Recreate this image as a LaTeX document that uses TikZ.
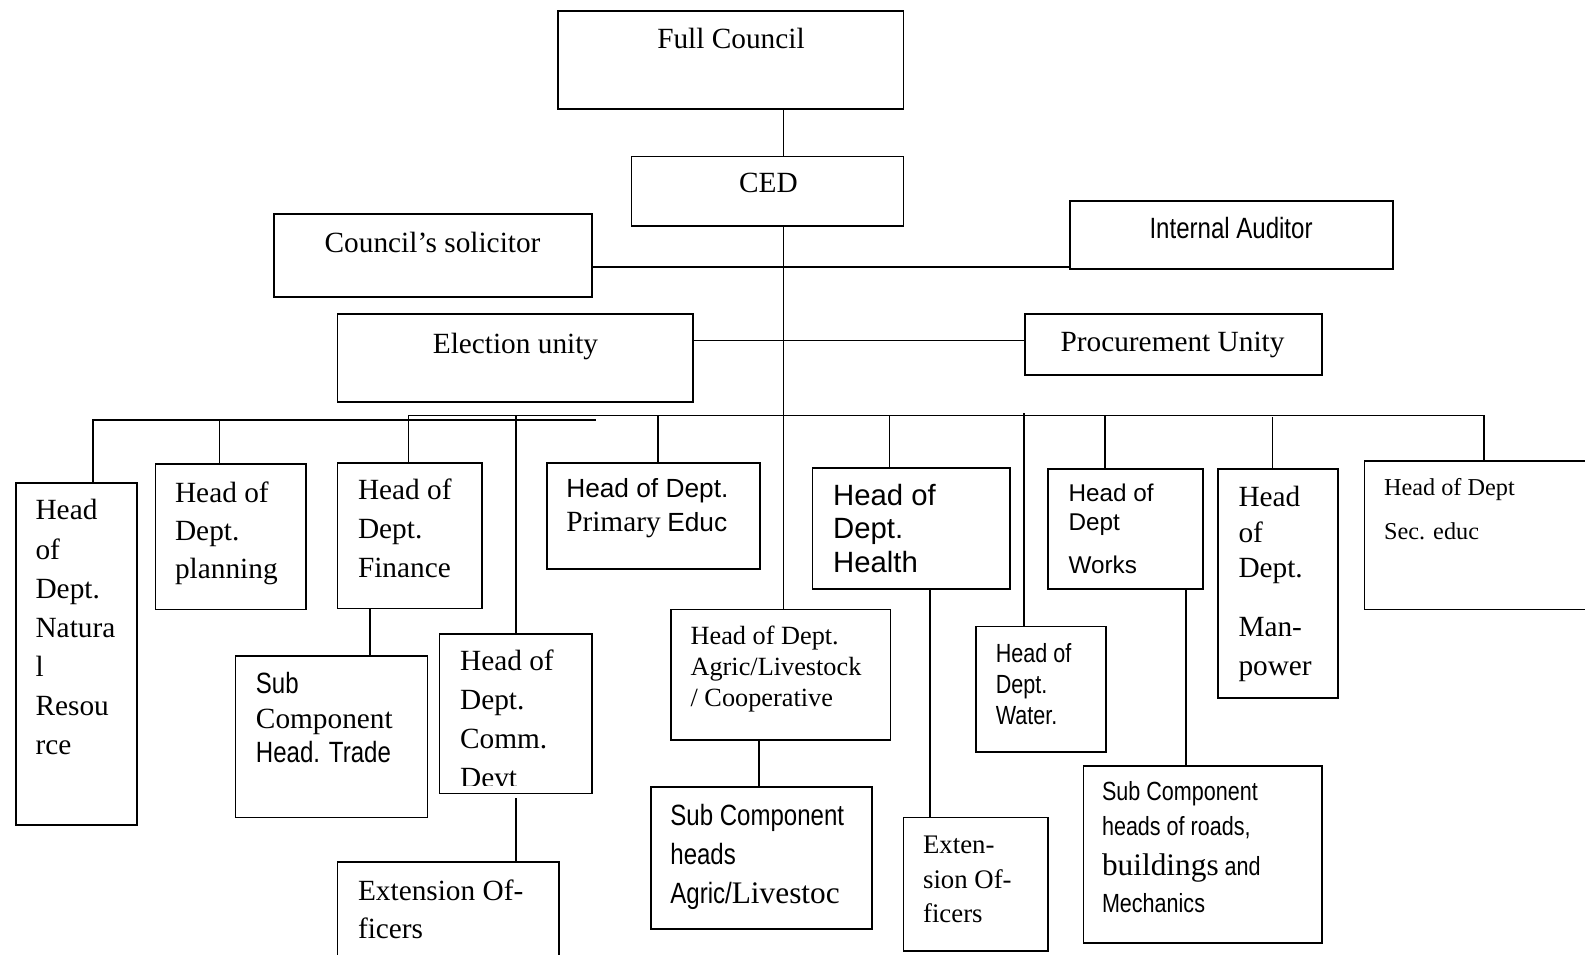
\documentclass[tikz,border=0pt]{standalone}
\usepackage{fontspec}
\setmainfont{Liberation Serif}
\setsansfont{Liberation Sans}
\newfontfamily\serifrm{Liberation Serif}
\newfontfamily\narrowsf[FakeStretch=0.82]{Liberation Sans}
\newcommand{\setfs}[2]{\fontsize{#1}{#2}\selectfont}
\begin{document}
\begin{tikzpicture}[x=1pt,y=-1pt,
  box/.style={draw, line width=1.7pt, inner sep=0pt, anchor=north west},
  txt/.style={inner sep=0pt, anchor=north west, align=left},
  conn/.style={line width=1.6pt}]
\fill[white] (0,0) rectangle (1568,944);
\useasboundingbox (0,0) rectangle (1568,944);

% ---------- boxes ----------
\node[box, minimum width=342, minimum height=97]  (fc)     at (551,10)  {};
\node[box, minimum width=269, minimum height=69]  (ced)    at (624,154) {};
\node[box, minimum width=315, minimum height=82]  (sol)    at (270,211) {};
\node[box, minimum width=319, minimum height=67]  (aud)    at (1058,198) {};
\node[box, minimum width=352, minimum height=87]  (ele)    at (333,310) {};
\node[box, minimum width=294, minimum height=60]  (pro)    at (1013,310) {};
\node[box, minimum width=120, minimum height=338] (nr)     at (15,477)  {};
\node[box, minimum width=149, minimum height=144] (plan)   at (153,458) {};
\node[box, minimum width=143, minimum height=144] (fin)    at (333,457) {};
\node[box, minimum width=190, minimum height=160] (trade)  at (232,648) {};
\node[box, minimum width=151, minimum height=158] (comm)   at (434,626) {};
\node[box, minimum width=219, minimum height=110] (ext1)   at (333,852) {};
\node[box, minimum width=211, minimum height=105] (prim)   at (540,457) {};
\node[box, minimum width=217, minimum height=129] (agr)    at (663,602) {};
\node[box, minimum width=219, minimum height=140] (subagr) at (643,778) {};
\node[box, minimum width=195, minimum height=120] (hea)    at (803,462) {};
\node[box, minimum width=143, minimum height=132] (ext2)   at (893,808) {};
\node[box, minimum width=128, minimum height=124] (wat)    at (965,619) {};
\node[box, minimum width=153, minimum height=119] (wor)    at (1036,463) {};
\node[box, minimum width=236, minimum height=175] (roads)  at (1071,757) {};
\node[box, minimum width=119, minimum height=227] (man)    at (1204,463) {};
\node[box, minimum width=240, minimum height=147] (sec)    at (1349,455) {};

% ---------- texts ----------
\node[txt, font=\setfs{29}{38}] (tfc)  at (650,28)  {Full Council};
\node[txt, font=\setfs{29}{38}] (tced) at (731,171) {CED};
\node[txt, font=\setfs{29}{38}] (tsol) at (321,229) {Council’s solicitor};
\node[txt, font=\narrowsf\setfs{29}{38}] (taud) at (1137,215) {Internal Auditor};
\node[txt, font=\setfs{29}{38}] (tele) at (428,329) {Election unity};
\node[txt, font=\setfs{29}{38}] (tpro) at (1049,328) {Procurement Unity};

\node[txt, font=\setfs{29}{38.7}] (tnr) at (35,494)
  {Head\\of\\Dept.\\Natura\\l\\Resou\\rce};
\node[txt, font=\setfs{29}{38}] (tplan) at (173,476) {Head of\\Dept.\\planning};
\node[txt, font=\setfs{29}{38.5}] (tfin) at (354,474) {Head of\\Dept.\\Finance};
\node[txt, font=\serifrm\setfs{29}{34}] (ttrade) at (253,665)
  {{\narrowsf Sub}\\Component\\{\narrowsf Head. Trade}};
\begin{scope}
  \clip (434,600) rectangle (585,777);
  \node[txt, font=\setfs{29}{38.5}] (tcomm) at (455,643) {Head of\\Dept.\\Comm.\\Devt};
\end{scope}
\node[txt, font=\setfs{29}{38}] (text1) at (354,870) {Extension Of-\\ficers};
\node[txt, font=\setfs{26}{34}] (tprim) at (560,473)
  {\sffamily Head of Dept.\\{\serifrm\setfs{29}{34}Primary} {\sffamily\setfs{26}{34}Educ}};
\node[txt, font=\setfs{26}{30.5}] (tagr) at (683,619)
  {Head of Dept.\\Agric/Livestock\\/ Cooperative};
\node[txt, font=\narrowsf\setfs{29}{39}] (tsubagr) at (663,795)
  {Sub Component\\heads\\Agric/{\serifrm\setfs{31}{39}Livestoc}};
\node[txt, font=\sffamily\setfs{29}{33}] (thea) at (824,479) {Head of\\Dept.\\Health};
\node[txt, font=\setfs{26.5}{34}] (text2) at (913,827) {Exten-\\sion Of-\\ficers};
\node[txt, font=\narrowsf\setfs{26}{30.5}] (twat) at (985,636.5) {Head of\\Dept.\\Water.};
\node[txt, font=\sffamily\setfs{24}{28}] (twor) at (1057,479) {Head of\\Dept\\[15pt]Works};
\node[txt, font=\narrowsf\setfs{26}{34}] (troads) at (1090,773)
  {Sub Component\\heads of roads,\\[6pt]{\serifrm\setfs{31}{34}buildings} and\\[3pt]Mechanics};
\node[txt, font=\setfs{29}{35}] (tman) at (1225,481) {Head\\of\\Dept.\\[23pt]Man-\\[4pt]power};
\node[txt, font=\setfs{24}{44}] (tsec) at (1369,472.6) {Head of Dept\\Sec. educ};

% ---------- connectors ----------
\coordinate (tx) at (775,0);
\draw[line width=1.2pt] (fc.south -| tx) -- (ced.north -| tx);
\draw[line width=1.2pt] (ced.south -| tx) -- (agr.north -| tx);

\coordinate (ly1) at (0,264);
\draw[conn] (sol.east |- ly1) -- (aud.west |- ly1);
\coordinate (ly2) at (0,337);
\draw[conn] (ele.east |- ly2) -- (pro.west |- ly2);

% buses
\coordinate (busAL) at (92,415.5);
\coordinate (busAR) at (590,415.5);
\coordinate (busBL) at (404,411);
\coordinate (busBR) at (1468,411);
\draw[conn] (nr.north -| busAL) -- (busAL) -- (busAR);
\draw[conn] (fin.north -| busBL) -- (busBL) -- (busBR) -- (sec.north -| busBR);

% drops
\coordinate (dPlan) at (217,415.5);
\draw[conn] (dPlan) -- (dPlan |- plan.north);
\draw[conn] (comm.north |- busBL) -- (comm.north);
\coordinate (dPrim) at (651,411);
\draw[conn] (dPrim) -- (dPrim |- prim.north);
\coordinate (dHea) at (880,411);
\draw[conn] (dHea) -- (dHea |- hea.north);
\coordinate (dWat) at (1013,409);
\draw[conn] (dWat) -- (dWat |- wat.north);
\coordinate (dWor) at (1093,411);
\draw[conn] (dWor) -- (dWor |- wor.north);
\coordinate (dMan) at (1259,413);
\draw[conn] (dMan) -- (dMan |- man.north);

% sub connectors
\coordinate (cFin) at (366,0);
\draw[conn] (fin.south -| cFin) -- (trade.north -| cFin);
\draw[conn] ([yshift=-4pt]comm.south) -- (ext1.north -| comm.south);
\coordinate (cAgr) at (751,0);
\draw[conn] (agr.south -| cAgr) -- (subagr.north -| cAgr);
\coordinate (cHea) at (920,0);
\draw[conn] (hea.south -| cHea) -- (ext2.north -| cHea);
\coordinate (cWor) at (1173,0);
\draw[conn] (wor.south -| cWor) -- (roads.north -| cWor);
\end{tikzpicture}
\end{document}
